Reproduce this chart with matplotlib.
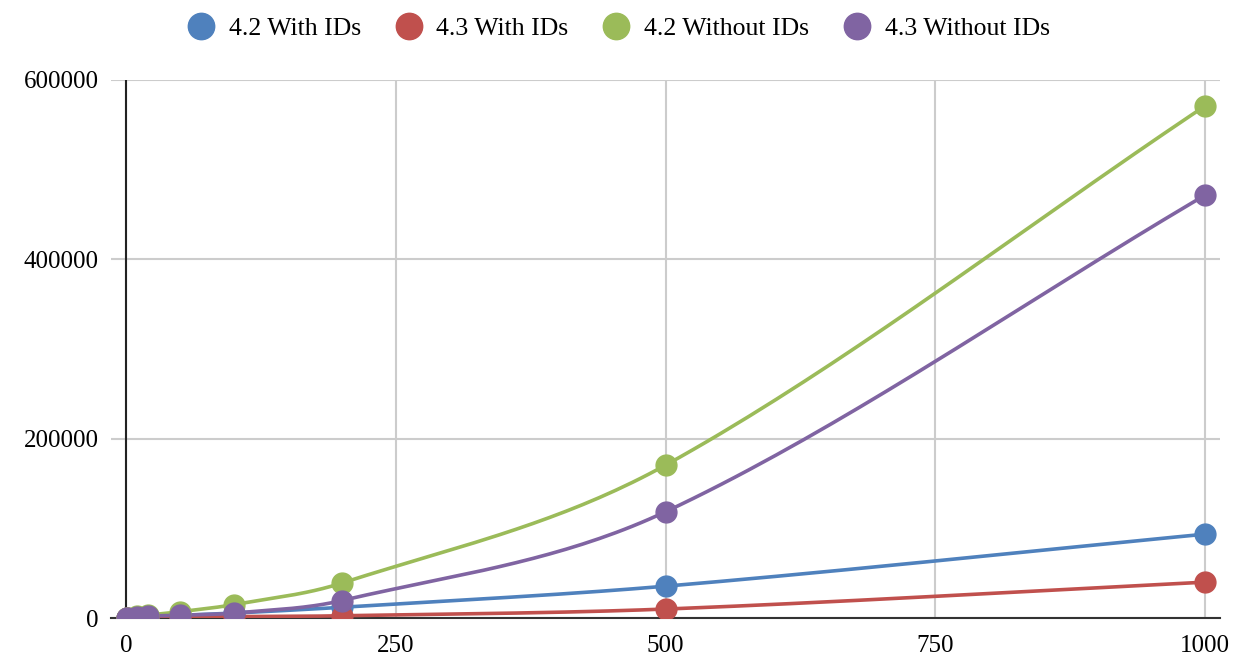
import matplotlib
matplotlib.use("Agg")
import matplotlib.pyplot as plt
import numpy as np

plt.rcParams['font.family'] = ['Liberation Serif', 'DejaVu Serif']

# data
x = [1, 10, 20, 50, 100, 200, 500, 1000]
with_42 = [150, 800, 1500, 3000, 5500, 12000, 35500, 93500]
with_43 = [50, 300, 600, 1200, 1500, 2500, 10000, 40000]
without_42 = [300, 1800, 3200, 7000, 15000, 39000, 170500, 571000]
without_43 = [200, 1200, 2200, 3000, 5500, 19500, 118500, 471500]

labels = ['4.2 With IDs', '4.3 With IDs', '4.2 Without IDs', '4.3 Without IDs']
colors = ['#4F81BD', '#C0504D', '#9BBB59', '#8064A2']


def smooth(xs, ys, n=40):
    # cubic hermite through the points, just for drawing the curve
    xs = np.asarray(xs, float)
    ys = np.asarray(ys, float)
    m = np.zeros_like(ys)
    m[0] = (ys[1] - ys[0]) / (xs[1] - xs[0])
    m[-1] = (ys[-1] - ys[-2]) / (xs[-1] - xs[-2])
    for i in range(1, len(xs) - 1):
        m[i] = (ys[i + 1] - ys[i - 1]) / (xs[i + 1] - xs[i - 1])
    out_x, out_y = [], []
    for i in range(len(xs) - 1):
        h = xs[i + 1] - xs[i]
        t = np.linspace(0, 1, n)
        h00 = 2 * t**3 - 3 * t**2 + 1
        h10 = t**3 - 2 * t**2 + t
        h01 = -2 * t**3 + 3 * t**2
        h11 = t**3 - t**2
        out_x.extend(xs[i] + t * h)
        out_y.extend(h00 * ys[i] + h10 * h * m[i] + h01 * ys[i + 1] + h11 * h * m[i + 1])
    return out_x, out_y


fig = plt.figure(figsize=(12.45, 6.7), dpi=100)
ax = fig.add_axes([0.0892, 0.0776, 0.8908, 0.803])

series = [with_42, with_43, without_42, without_43]
handles = []
for ys, lab, c in zip(series, labels, colors):
    sx, sy = smooth(x, ys)
    ax.plot(sx, sy, color=c, lw=2.6, zorder=3)
    ax.plot(x, ys, 'o', color=c, ms=15, zorder=4)
    h, = ax.plot([], [], 'o', color=c, ms=19, label=lab)
    handles.append(h)

ax.set_xlim(-14, 1014)
ax.set_ylim(0, 600000)
ax.set_xticks([0, 250, 500, 750, 1000])
ax.set_yticks([0, 200000, 400000, 600000])
ax.grid(True, color='#cccccc', lw=1.5, zorder=0)
ax.axvline(0, color='#222222', lw=1.5, zorder=2)
for s in ['top', 'right', 'left']:
    ax.spines[s].set_visible(False)
ax.spines['bottom'].set_color('#333333')
ax.spines['bottom'].set_linewidth(1.5)
ax.spines['bottom'].set_zorder(2)
ax.tick_params(length=0, labelsize=18)
ax.tick_params(axis='x', pad=12)
ax.tick_params(axis='y', pad=9)

fig.legend(handles=handles, loc='center', bbox_to_anchor=(0.497, 0.958),
           ncol=4, frameon=False, fontsize=18.5, handletextpad=0.58,
           columnspacing=1.36, handlelength=1.0)

plt.savefig('out.png', dpi=100)
